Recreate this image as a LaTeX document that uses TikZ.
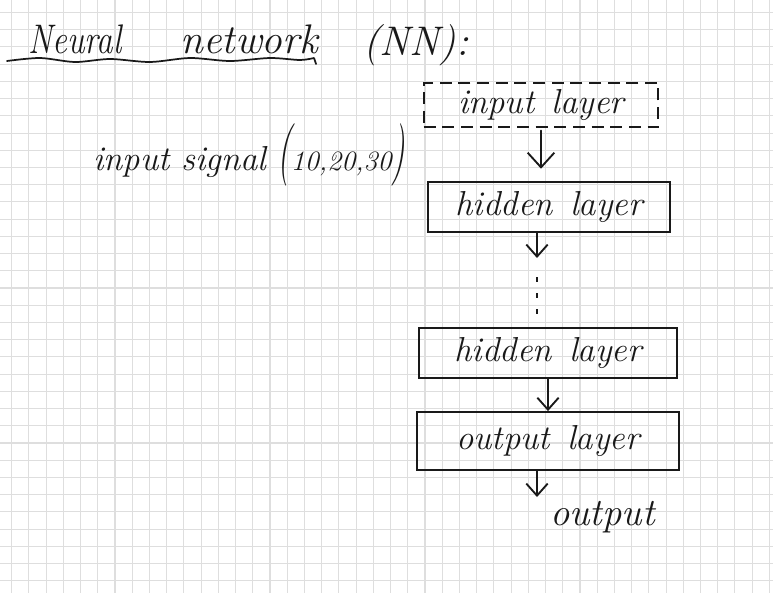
\documentclass[tikz,border=0pt]{standalone}
\usepackage{fontspec}
\usepackage{graphicx}
\usetikzlibrary{arrows.meta}
\begin{document}
\begin{tikzpicture}[x=0.75pt,y=-0.75pt,
  gridline/.style={draw={rgb,255:red,222;green,222;blue,222}, line width=0.8pt},
  ink/.style={draw=black!90, line width=1.4pt, line cap=round, line join=round},
  layerbox/.style={draw=black!90, line width=1.4pt, rectangle, inner sep=0pt,
    font=\fontsize{26}{30}\selectfont\itshape, text=black!90},
  arr/.style={draw=black!90, line width=1.4pt, line cap=round,
    -{Straight Barb[length=9pt,width=16pt,line width=1.4pt]}},
  hand/.style={inner sep=0pt, anchor=base west, text=black!90}
]
\useasboundingbox (0,0) rectangle (773,593);
\fill[white] (0,0) rectangle (773,593);
\foreach \i in {0,...,44} \draw[gridline] (11.7+17.22*\i,0) -- (11.7+17.22*\i,593);
\foreach \j in {0,...,33} \draw[gridline] (0,12.5+17.22*\j) -- (773,12.5+17.22*\j);

% title
\node[hand, font=\fontsize{31}{36}\selectfont\itshape] (t1) at (28,53) {\scalebox{0.8}[1]{Neural}};
\node[hand, font=\fontsize{31}{36}\selectfont\itshape] (t2) at (180,53) {network};
\node[hand, font=\fontsize{31}{36}\selectfont\itshape] (t3) at (363,55) {(NN):};
\draw[ink, line width=1.3pt] plot[smooth] coordinates {(7,61) (40,58) (75,62) (110,59) (150,62) (190,58) (230,61) (270,58) (300,60) (314,58)} -- (316,64);

% input signal
\node[hand, font=\fontsize{26}{32}\selectfont\itshape] (sig) at (93,170)
  {input\hspace{0.35em}signal\hspace{0.3em}\scalebox{1}[1.8]{(}{\fontsize{21}{26}\selectfont 10,20,30}\scalebox{1}[1.8]{)}};

% layers
\node[layerbox, dashed, dash pattern=on 9pt off 5pt, minimum width=176pt, minimum height=33pt] (inL) at (541,105) {input\hspace{0.5em}layer};
\node[layerbox, minimum width=181.5pt, minimum height=38pt] (hid1) at (549,207) {hidden\hspace{0.5em}layer};
\node[layerbox, minimum width=193pt, minimum height=37.5pt] (hid2) at (548,353) {hidden\hspace{0.5em}layer};
\node[layerbox, minimum width=197pt, minimum height=43.5pt] (outL) at (548,441) {output\hspace{0.5em}layer};

\coordinate (c1) at (537,258);
\coordinate (d1) at (537,277);
\coordinate (d2) at (537,314);
\coordinate (c2) at (537,497);

\draw[arr, shorten <=2pt, shorten >=9pt, -{Straight Barb[length=11pt,width=20pt,line width=1.4pt]}] (inL.south) -- (inL.south |- hid1.north);
\draw[arr] (c1 |- hid1.south) -- (c1);
\draw[ink, line cap=butt, dash pattern=on 4pt off 8pt] (d1) -- (d2);
\draw[arr] (hid2.south) -- (hid2.south |- outL.north);
\draw[arr] (c2 |- outL.south) -- (c2);

\node[hand, font=\fontsize{29}{34}\selectfont\itshape] (out) at (550,525) {output};
\end{tikzpicture}
\end{document}
